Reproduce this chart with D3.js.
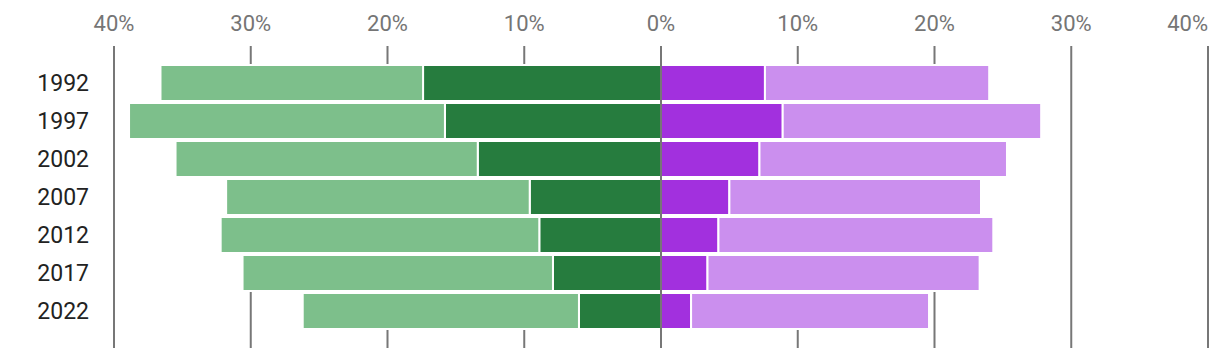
<!DOCTYPE html>
<html>
<head>
<meta charset="utf-8">
<script src="https://cdn.jsdelivr.net/npm/d3@7"></script>
<style>
  html, body { margin: 0; padding: 0; background: #fff; }
  svg { display: block; font-family: Roboto, "Noto Sans", sans-serif; }
</style>
</head>
<body>
<svg width="1220" height="358"></svg>
<script>
// data (percent)
var years = ["1992", "1997", "2002", "2007", "2012", "2017", "2022"];
var leftInner  = [17.4, 15.8, 13.4, 9.6, 8.9, 7.9, 6.0];      // dark green
var leftOuter  = [19.2, 23.1, 22.1, 22.2, 23.3, 22.7, 20.2];  // light green
var rightInner = [7.6, 8.9, 7.2, 5.0, 4.2, 3.4, 2.2];         // purple
var rightOuter = [16.4, 18.9, 18.1, 18.4, 20.1, 19.9, 17.4];  // light purple
var tickValues = [-40, -30, -20, -10, 0, 10, 20, 30, 40];

var svg = d3.select("svg"),
    width = +svg.attr("width"),
    height = +svg.attr("height");

var x = d3.scaleLinear().domain([-40, 40]).range([114, 1208]);
var y = d3.scaleBand().domain(years).range([64, 330])
    .paddingInner(2 / 38).paddingOuter(1 / 38);

// build stacked segments
var segs = [];
years.forEach(function(yr, i) {
  segs.push({year: yr, x0: -leftInner[i], x1: 0, color: "#267c3e"});
  segs.push({year: yr, x0: -leftInner[i] - leftOuter[i], x1: -leftInner[i], color: "#7dbf8b"});
  segs.push({year: yr, x0: 0, x1: rightInner[i], color: "#a230de"});
  segs.push({year: yr, x0: rightInner[i], x1: rightInner[i] + rightOuter[i], color: "#cb8fee"});
});

// gridlines (behind bars)
svg.append("g")
  .selectAll("line")
  .data(tickValues.filter(function(d) { return d !== 0; }))
  .enter().append("line")
    .attr("x1", function(d) { return x(d); })
    .attr("x2", function(d) { return x(d); })
    .attr("y1", 46)
    .attr("y2", 348)
    .attr("stroke", "#777")
    .attr("stroke-width", 2);

// bars
svg.append("g")
  .selectAll("rect")
  .data(segs)
  .enter().append("rect")
    .attr("x", function(d) { return x(d.x0); })
    .attr("width", function(d) { return x(d.x1) - x(d.x0); })
    .attr("y", function(d) { return y(d.year); })
    .attr("height", y.bandwidth())
    .attr("fill", function(d) { return d.color; })
    .attr("stroke", "#fff")
    .attr("stroke-width", 2);

// zero line on top
svg.append("line")
    .attr("x1", x(0)).attr("x2", x(0))
    .attr("y1", 46).attr("y2", 348)
    .attr("stroke", "#777")
    .attr("stroke-width", 2);

// top axis labels (last one pulled inside the frame)
svg.append("g")
  .selectAll("text")
  .data(tickValues)
  .enter().append("text")
    .attr("x", function(d) { return x(d); })
    .attr("y", 31)
    .attr("text-anchor", function(d) { return d === 40 ? "end" : "middle"; })
    .attr("fill", "#757575")
    .attr("font-size", 22)
    .text(function(d) { return Math.abs(d) + "%"; });

// year labels
svg.append("g")
  .selectAll("text")
  .data(years)
  .enter().append("text")
    .attr("x", 89)
    .attr("y", function(d) { return y(d) + y.bandwidth() / 2; })
    .attr("dy", "0.36em")
    .attr("text-anchor", "end")
    .attr("fill", "#222")
    .attr("font-size", 23)
    .text(function(d) { return d; });
</script>
</body>
</html>
